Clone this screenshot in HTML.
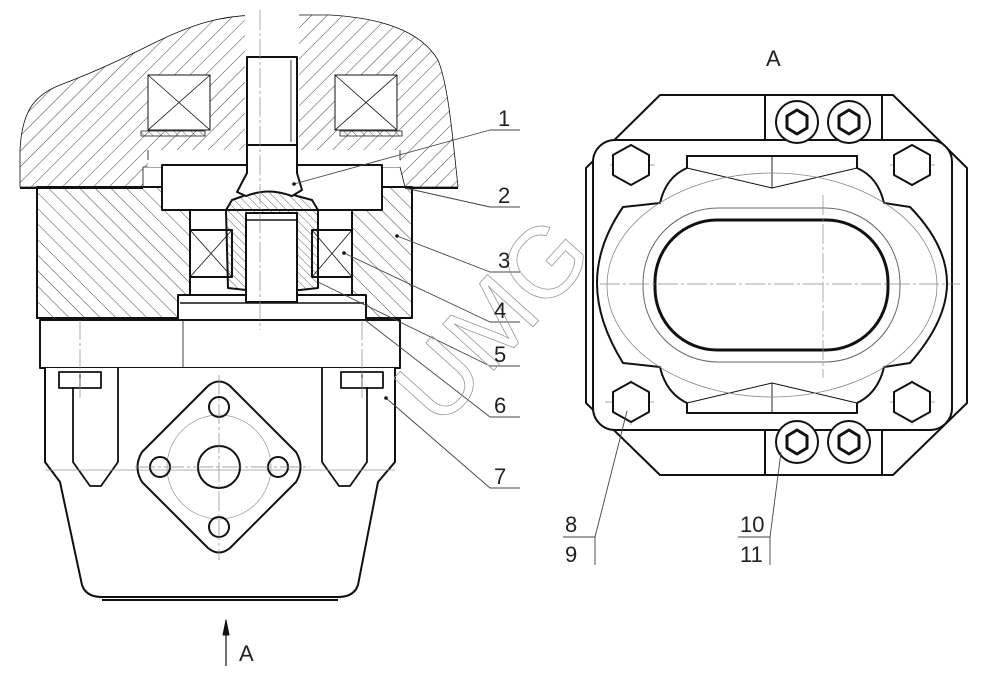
<!DOCTYPE html>
<html><head><meta charset="utf-8"><style>
html,body{margin:0;padding:0;background:#fff}
svg{display:block}
text{font-family:"Liberation Sans",sans-serif;fill:#222}
</style></head><body>
<svg width="1000" height="676" viewBox="0 0 1000 676" xmlns="http://www.w3.org/2000/svg">
<defs>
<pattern id="h1" patternUnits="userSpaceOnUse" width="11" height="11" patternTransform="rotate(45)">
<line x1="0" y1="0" x2="0" y2="11" stroke="#333" stroke-width="0.9"/></pattern>
<pattern id="h2" patternUnits="userSpaceOnUse" width="11" height="11" patternTransform="rotate(-45)">
<line x1="0" y1="0" x2="0" y2="11" stroke="#333" stroke-width="0.9"/></pattern>
<pattern id="h3" patternUnits="userSpaceOnUse" width="6" height="6" patternTransform="rotate(-45)">
<line x1="0" y1="0" x2="0" y2="6" stroke="#333" stroke-width="0.8"/></pattern>
</defs>
<g fill="none" stroke="#111" stroke-linejoin="round">
<path d="M20,187 L20,150 C22,110 35,95 60,85 C100,70 130,55 150,45 C190,25 220,15 260,15 L330,15 C380,18 420,30 438,60 C448,85 452,130 458,187 L405,187 L400,167 L143,167 L143,187 Z" fill="url(#h1)" stroke-width="0.8"/>
<rect x="245" y="14" width="54" height="160" fill="#fff" stroke="none"/>
<rect x="148" y="75" width="62" height="55" fill="#fff" stroke-width="1"/>
<path d="M148,75 L210,130 M210,75 L148,130" stroke-width="0.8"/>
<rect x="335" y="75" width="62" height="55" fill="#fff" stroke-width="1"/>
<path d="M335,75 L397,130 M397,75 L335,130" stroke-width="0.8"/>
<rect x="141" y="131" width="64" height="5" fill="url(#h3)" stroke-width="0.8"/>
<rect x="340" y="131" width="62" height="5" fill="url(#h3)" stroke-width="0.8"/>
<rect x="148" y="150" width="252" height="17" fill="#fff" stroke="none"/>
<path d="M148,150 L148,160 M400,150 L400,160" stroke-width="0.8"/>
<rect x="37" y="187" width="375" height="131" fill="url(#h2)" stroke-width="2"/>
<rect x="162" y="165" width="220" height="45" fill="#fff" stroke-width="2"/>
<rect x="190" y="210" width="162" height="85" fill="#fff" stroke-width="2"/>
<rect x="178" y="295" width="188" height="25" fill="#fff" stroke-width="2"/>
<line x1="180" y1="303" x2="364" y2="303" stroke-width="1.5"/>
<rect x="190" y="230" width="42" height="47" fill="#fff" stroke-width="2"/>
<path d="M190,230 L232,277 M232,230 L190,277" stroke-width="0.8"/>
<rect x="312" y="230" width="40" height="47" fill="#fff" stroke-width="2"/>
<path d="M312,230 L352,277 M352,230 L312,277" stroke-width="0.8"/>
<path d="M226,210 L232,200 L246,195 C265,188 280,190 297,196 L312,200 L318,210 L318,288 L300,290 L246,290 L228,288 Z" fill="url(#h3)" stroke-width="2"/>
<rect x="246" y="213" width="51" height="89" fill="#fff" stroke-width="2"/>
<line x1="246" y1="220" x2="297" y2="220" stroke-width="1.5"/>
<path d="M247,57 L297,57 L297,173 L302,190 L292,196 C275,190 262,190 246,196 L237,192 L247,173 Z" fill="#fff" stroke-width="2"/>
<line x1="247" y1="145" x2="297" y2="145" stroke-width="2"/>
<line x1="291" y1="60" x2="291" y2="142" stroke-width="0.8"/>
<line x1="20" y1="188" x2="143" y2="188" stroke-width="2"/>
<line x1="405" y1="188" x2="458" y2="188" stroke-width="2"/>
<rect x="40" y="320" width="360" height="48" fill="#fff" stroke-width="2"/>
<line x1="183" y1="320" x2="183" y2="368" stroke-width="0.8"/>
<path d="M45,368 L45,462 L60,482 L82,585 Q86,597 102,597 L338,597 Q354,597 358,585 L378,482 L395,462 L395,368" fill="#fff" stroke-width="2"/>
<path d="M102,600 L338,600" stroke-width="2"/>
<path d="M73,387 L73,462 L90,486 L101,486 L118,462 L118,368" stroke-width="1.8"/>
<path d="M322,368 L322,462 L339,486 L350,486 L367,462 L367,387" stroke-width="1.8"/>
<line x1="45" y1="470" x2="395" y2="470" stroke="#999" stroke-width="0.7"/>
<rect x="59" y="372" width="42" height="16" stroke-width="1.8"/>
<line x1="80" y1="372" x2="80" y2="388" stroke-width="1"/>
<rect x="341" y="372" width="42" height="16" stroke-width="1.8"/>
<line x1="362" y1="372" x2="362" y2="388" stroke-width="1"/>
<path d="M208,386 Q219,377 230,386 L296,452 Q305,467 296,482 L230,548 Q219,557 208,548 L142,482 Q133,467 142,452 Z" stroke-width="2"/>
<circle cx="219" cy="467" r="52" stroke="#999" stroke-width="0.7"/>
<circle cx="219" cy="407" r="10" stroke-width="2"/>
<circle cx="219" cy="527" r="10" stroke-width="2"/>
<circle cx="160" cy="467" r="10" stroke-width="2"/>
<circle cx="278" cy="467" r="10" stroke-width="2"/>
<circle cx="219" cy="467" r="21" stroke-width="2"/>
<g stroke="#888" stroke-width="0.7" stroke-dasharray="20,3,3,3">
<line x1="260" y1="10" x2="260" y2="330"/>
<line x1="219" y1="375" x2="219" y2="560"/>
<line x1="135" y1="467" x2="310" y2="467"/>
<line x1="80" y1="320" x2="80" y2="400"/>
<line x1="362" y1="320" x2="362" y2="400"/>
</g>
<line x1="226" y1="622" x2="226" y2="666" stroke-width="1.2"/>
<path d="M223,635 L226,620 L229,635 Z" fill="#111"/>
<g stroke="#444" stroke-width="0.9">
<path d="M294,184 L490,130 L520,130"/>
<path d="M405,188 L490,207 L520,207"/>
<path d="M397,236 L490,272 L520,272"/>
<path d="M344,253 L490,322 L520,322"/>
<path d="M318,282 L490,366 L520,366"/>
<path d="M365,320 L490,417 L520,417"/>
<path d="M386,398 L490,488 L520,488"/>
</g>
<g fill="#111" stroke="none">
<circle cx="294" cy="184" r="1.8"/><circle cx="397" cy="236" r="1.8"/><circle cx="344" cy="253" r="1.8"/><circle cx="386" cy="398" r="1.8"/>
<circle cx="627" cy="411" r="1.8"/><circle cx="781" cy="452" r="1.8"/>
</g>
<text x="0" y="0" transform="translate(440,430) rotate(-48)" font-size="100" stroke="#999" stroke-width="0.8" style="fill:none">UMG</text>

<path d="M660,95 L893,95 L967,168 L967,403 L893,475 L660,475 L586,403 L586,168 Z" stroke-width="2"/>
<rect x="593" y="140" width="359" height="290" rx="22" fill="#fff" stroke-width="2"/>
<line x1="952" y1="160" x2="952" y2="410" stroke-width="1"/>
<rect x="765" y="95" width="117" height="45" fill="#fff" stroke-width="2"/>
<rect x="765" y="430" width="117" height="45" fill="#fff" stroke-width="2"/>
<path d="M623,207 L660,203 Q666,177 687,168 L687,156 L857,156 L857,168 Q878,177 884,203 L910,207 Q947,245 947,283 Q947,321 910,363 L884,367 Q878,393 857,403 L857,413 L687,413 L687,403 Q666,393 660,367 L623,363 Q597,321 597,283 Q597,245 623,207 Z" stroke-width="2" fill="#fff"/>
<path d="M687,168 L772,188 L857,168 M687,403 L772,383 L857,403 M772,156 L772,188 M772,383 L772,413" stroke-width="0.9"/>
<ellipse cx="772" cy="285" rx="165" ry="112" stroke="#888" stroke-width="0.8"/>
<rect x="643" y="208" width="257" height="154" rx="75" stroke="#666" stroke-width="1"/>
<rect x="655" y="220" width="233" height="130" rx="62" stroke-width="3"/>
<g stroke="#888" stroke-width="0.7" stroke-dasharray="20,3,3,3">
<line x1="600" y1="284" x2="960" y2="284"/>
<line x1="823" y1="195" x2="823" y2="378"/>
<line x1="610" y1="165" x2="655" y2="165"/><line x1="631" y1="145" x2="631" y2="185"/>
<line x1="890" y1="165" x2="935" y2="165"/><line x1="912" y1="145" x2="912" y2="185"/>
<line x1="605" y1="402" x2="655" y2="402"/><line x1="631" y1="380" x2="631" y2="425"/>
<line x1="890" y1="402" x2="935" y2="402"/><line x1="912" y1="380" x2="912" y2="425"/>
</g>
<g stroke-width="2" fill="#fff">
<polygon points="631,145 649,155 649,175 631,185 613,175 613,155"/>
<polygon points="912,145 930,155 930,175 912,185 894,175 894,155"/>
<polygon points="631,382 649,392 649,412 631,422 613,412 613,392"/>
<polygon points="912,382 930,392 930,412 912,422 894,412 894,392"/>
<circle cx="797" cy="122" r="21"/><circle cx="849" cy="122" r="21"/>
<circle cx="797" cy="442" r="21"/><circle cx="849" cy="442" r="21"/>
</g>
<g stroke-width="3">
<polygon points="797,110 807,116 807,128 797,134 787,128 787,116"/>
<polygon points="849,110 859,116 859,128 849,134 839,128 839,116"/>
<polygon points="797,430 807,436 807,448 797,454 787,448 787,436"/>
<polygon points="849,430 859,436 859,448 849,454 839,448 839,436"/>
</g>
<g stroke="#444" stroke-width="0.9">
<path d="M627,411 L595,537 L563,537 M595,537 L595,565"/>
<path d="M781,452 L770,537 L738,537 M770,537 L770,565"/>
</g>
</g>
<g font-size="22" style="font-stretch:condensed">
<text x="498" y="126">1</text><text x="498" y="203">2</text><text x="498" y="268">3</text>
<text x="494" y="318">4</text><text x="494" y="362">5</text><text x="494" y="413">6</text><text x="494" y="484">7</text>
<text x="565" y="532">8</text><text x="565" y="562">9</text>
<text x="740" y="532">10</text><text x="740" y="562">11</text>
<text x="766" y="66">A</text><text x="239" y="661">A</text>
</g>
</svg>
</body></html>
